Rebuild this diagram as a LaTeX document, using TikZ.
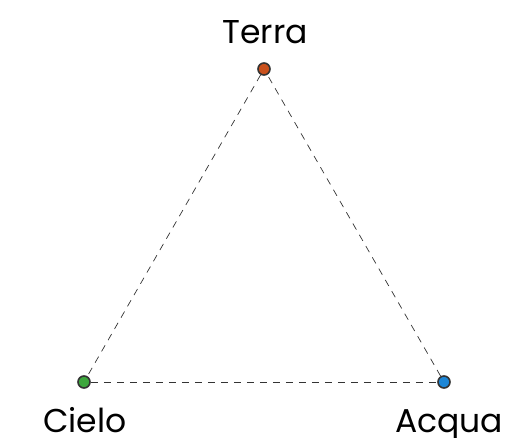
\documentclass[tikz,border=0pt]{standalone}
\usepackage{fontspec}
\setmainfont{Poppins}
\definecolor{terrac}{HTML}{C9501C}
\definecolor{cieloc}{HTML}{3DA73D}
\definecolor{acquac}{HTML}{1C86D6}
\definecolor{edgec}{HTML}{333333}
\begin{document}
\begin{tikzpicture}[x=1pt,y=-1pt,
  vtx/.style={circle,draw=edgec,line width=1.6pt,minimum size=12pt,inner sep=0pt},
  lbl/.style={font=\fontsize{33}{38}\selectfont,text=black,inner sep=0pt},
  edge/.style={draw=edgec,line width=0.7pt,dash pattern=on 7pt off 6pt}]
\useasboundingbox (0,0) rectangle (505,437);
\node[vtx,fill=terrac] (t) at (264,69) {};
\node[vtx,fill=cieloc] (c) at (84,382) {};
\node[vtx,fill=acquac] (a) at (444,382) {};
\draw[edge] (t) -- (c);
\draw[edge] (c) -- (a);
\draw[edge] (a) -- (t);
\node[lbl,anchor=base] (tl) at (265,43) {Terra};
\node[lbl,anchor=base] (cl) at (85,432) {Cielo};
\node[lbl,anchor=base] (al) at (449,432) {Acqua};
\end{tikzpicture}
\end{document}
